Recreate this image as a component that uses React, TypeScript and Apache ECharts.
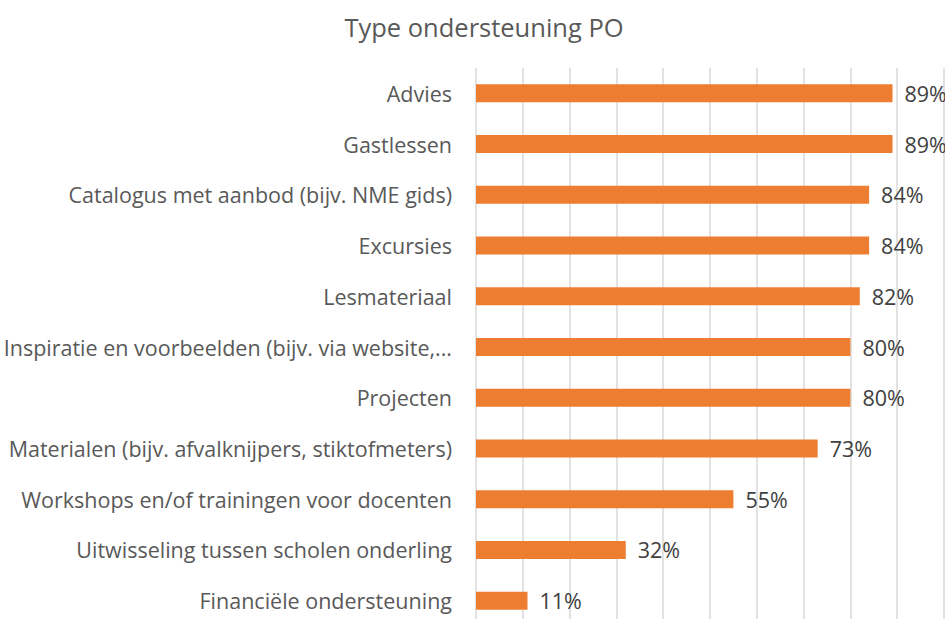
import React, { useEffect, useRef } from "react";
import * as echarts from "echarts";

const categories = [
  "Advies",
  "Gastlessen",
  "Catalogus met aanbod (bijv. NME gids)",
  "Excursies",
  "Lesmateriaal",
  "Inspiratie en voorbeelden (bijv. via website,...",
  "Projecten",
  "Materialen (bijv. afvalknijpers, stiktofmeters)",
  "Workshops en/of trainingen voor docenten",
  "Uitwisseling tussen scholen onderling",
  "Financiële ondersteuning",
];
const values = [89, 89, 84, 84, 82, 80, 80, 73, 55, 32, 11];
const titleText = "Type ondersteuning PO";

const FONT = "'Open Sans', 'Noto Sans', sans-serif";

export default function App() {
  const ref = useRef<HTMLDivElement>(null);
  useEffect(() => {
    if (!ref.current) return;
    const chart = echarts.init(ref.current, null, { renderer: "svg" });
    chart.setOption({
      animation: false,
      backgroundColor: "#ffffff",
      title: {
        text: titleText,
        left: 479,
        textAlign: "center",
        top: 9,
        textStyle: {
          fontFamily: FONT,
          fontSize: 25.5,
          fontWeight: "normal",
          color: "#595959",
        },
      },
      grid: { left: 476, right: 1, top: 68, bottom: 0, containLabel: false },
      xAxis: {
        type: "value",
        min: 0,
        max: 100,
        interval: 10,
        axisLabel: { show: false },
        axisLine: { show: false },
        axisTick: { show: false },
        splitLine: { show: true, lineStyle: { color: "#d9d9d9", width: 1.5 } },
      },
      yAxis: {
        type: "category",
        data: categories,
        inverse: true,
        axisLine: { show: false },
        axisTick: { show: false },
        axisLabel: {
          margin: 24,
          fontFamily: FONT,
          fontSize: 21.5,
          color: "#595959",
        },
      },
      series: [
        {
          type: "bar",
          data: values,
          barWidth: 18,
          itemStyle: { color: "#ED7D31" },
          label: {
            show: true,
            position: "right",
            distance: 12,
            formatter: "{c}%",
            fontFamily: FONT,
            fontSize: 21.5,
            color: "#404040",
          },
        },
      ],
    });
    return () => chart.dispose();
  }, []);
  return (
    <div
      ref={ref}
      style={{ position: "fixed", left: 0, top: 0, width: 945, height: 626 }}
    />
  );
}
